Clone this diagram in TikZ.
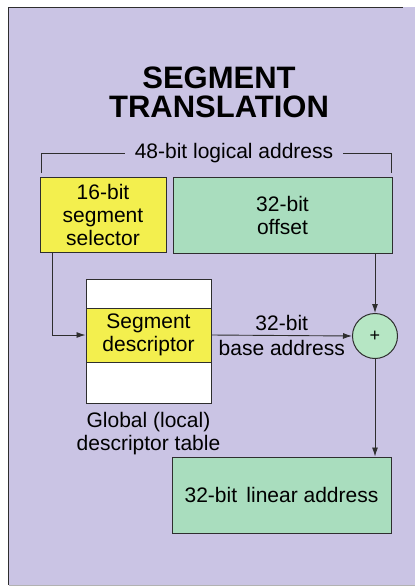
\documentclass[tikz,border=0pt]{standalone}
\usepackage{fontspec}
\setmainfont{Liberation Sans}
\usetikzlibrary{arrows.meta,positioning,calc}
\definecolor{BackClr}{HTML}{CAC4E4}
\definecolor{SelClr}{HTML}{F3EF4E}
\definecolor{OffClr}{HTML}{A9DDBE}
\definecolor{SumClr}{HTML}{B6E6C4}
\definecolor{EdgeClr}{HTML}{2E2E2E}

\begin{document}
\begin{tikzpicture}[x=1pt,y=-1pt,
  txt/.style={font=\fontsize{21}{23}\selectfont,align=center,inner sep=0pt},
  box/.style={txt,draw=EdgeClr,line width=1pt},
  arr/.style={line width=0.9pt,draw=EdgeClr,-{Latex[length=9pt,width=6pt]}}]
\useasboundingbox (0,0) rectangle (415,587);
\fill[BackClr] (8,7) rectangle (415,585);
\draw[EdgeClr,line width=1pt] (8,585) -- (8,7) -- (403,7);
\draw[gray!60,line width=1pt] (9,585) -- (415,585);

\node[font=\fontsize{31}{29}\selectfont\bfseries,align=center] (title) at (219,92) {SEGMENT\\TRANSLATION};

% logical address
\node[txt,inner xsep=10pt] (logical) at (234,153) {48-bit logical address};
\draw[EdgeClr,line width=0.9pt] (41,173) |- (logical.west);
\draw[EdgeClr,line width=0.9pt] (logical.east) -| (391,173);

\node[box,fill=SelClr,minimum width=126pt,minimum height=75pt] (sel) at (103,214.5) {16-bit\\segment\\selector};
\node[box,fill=OffClr,minimum width=219pt,minimum height=76pt] (off) at (282.5,215) {32-bit\\offset};

% descriptor table
\node[box,fill=white,minimum width=125pt,minimum height=124pt] (gdt) at (148.5,341) {};
\node[box,fill=SelClr,minimum width=125pt,minimum height=54pt] (desc) at (148.5,335) {Segment\\descriptor};
\node[txt,below=9pt of gdt] (gdtlabel) {Global (local)\\descriptor table};

\node[circle,draw=EdgeClr,line width=1pt,fill=SumClr,minimum size=45pt,inner sep=0pt,font=\fontsize{18}{18}\selectfont] (plus) at (375,336) {+};

\node[box,fill=OffClr,minimum width=219pt,minimum height=76pt] (lin) at (281.5,495) {32-bit\, linear address};

\coordinate (bend) at (52,335);
\draw[arr] (bend |- sel.south) -- (bend) -- (desc.west);
\draw[arr] (plus |- off.south) -- (plus.north);
\draw[arr] (desc.east) -- node[txt,above=4pt]{32-bit} node[txt,below=4pt]{base address} (plus.west);
\draw[arr] (plus.south) -- (plus |- lin.north);

\end{tikzpicture}
\end{document}
